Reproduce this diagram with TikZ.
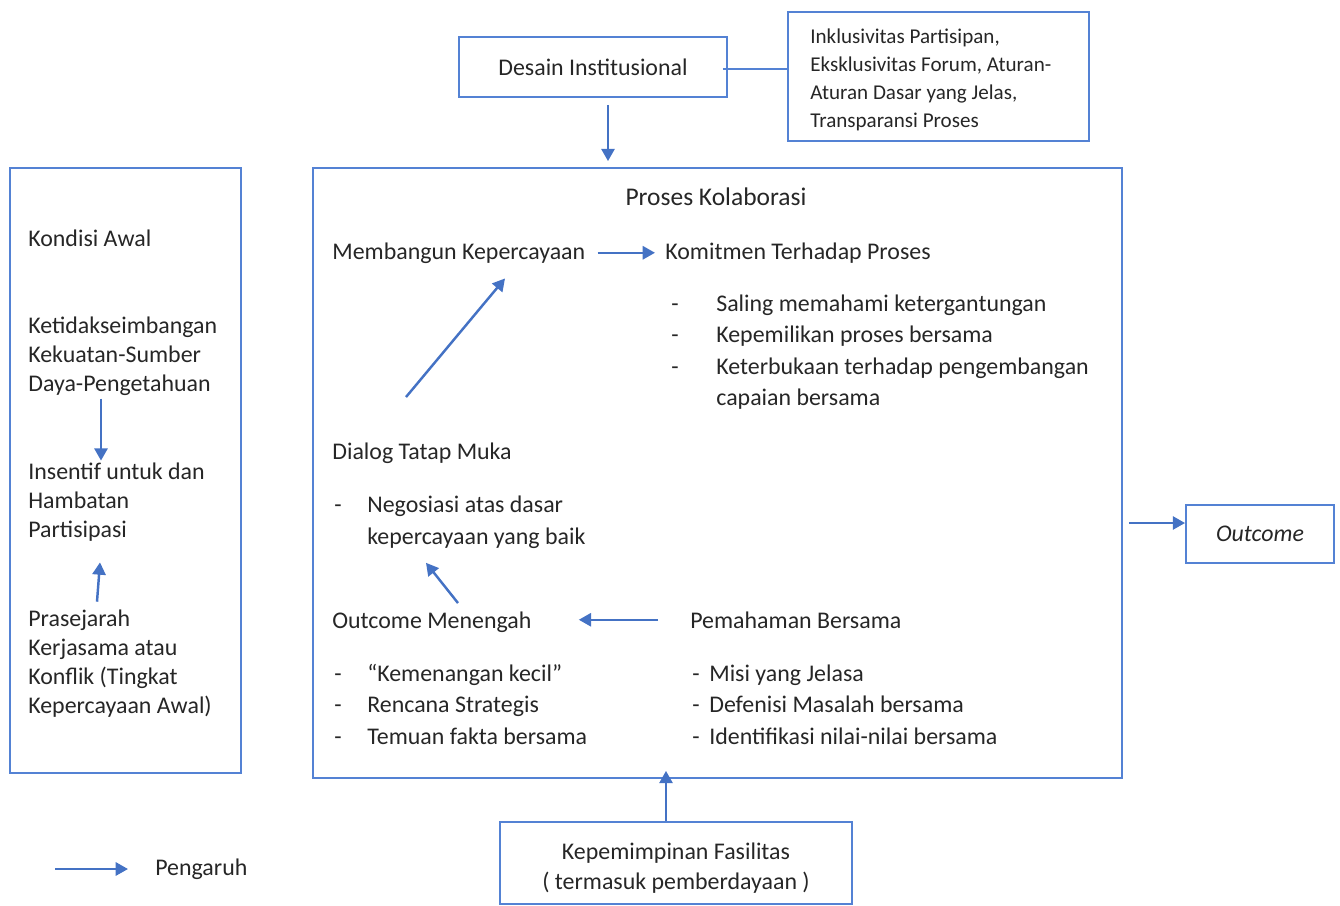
\documentclass[tikz,border=0pt]{standalone}
\usepackage{fontspec}
\setmainfont{Carlito}
\usetikzlibrary{arrows.meta,calc}

\definecolor{garisbiru}{RGB}{84,130,212}
\definecolor{panahbiru}{RGB}{68,114,196}
\definecolor{teks}{RGB}{38,38,38}

\newcommand{\ukuran}{\fontsize{13.6}{16.4}\selectfont}
\newcommand{\ukurandaftar}{\fontsize{13.6}{17.9}\selectfont}
\newcommand{\ukurankecil}{\fontsize{12}{15.9}\selectfont}

\tikzset{
  kotak/.style={draw=garisbiru, line width=1.1pt, inner sep=0pt, text=teks},
  tulisan/.style={anchor=west, inner sep=0pt, align=left, font=\ukuran, text=teks},
  panah/.style={draw=panahbiru, line width=1.4pt, -{Triangle[length=7pt,width=7.5pt]}},
  garis/.style={draw=garisbiru, line width=1.4pt}
}

\begin{document}
\begin{tikzpicture}[x=0.02cm,y=-0.02cm]
\useasboundingbox (0,0) rectangle (1340,906);

% kotak
\node[kotak, minimum width=5.36cm, minimum height=1.2cm, font=\ukuran] (desain) at (593,67) {Desain Institusional};
\node[kotak, minimum width=6.02cm, minimum height=2.58cm] (ciri) at (938.5,76.5) {};
\node[tulisan, font=\ukurankecil] (ciri-isi) at (810,79.5) {Inklusivitas Partisipan,\\Eksklusivitas Forum, Aturan-\\Aturan Dasar yang Jelas,\\Transparansi Proses};
\node[kotak, minimum width=4.62cm, minimum height=12.1cm] (kondisi) at (125.5,470.5) {};
\node[kotak, minimum width=16.18cm, minimum height=12.2cm] (proses) at (717.5,473) {};
\node[kotak, minimum width=2.96cm, minimum height=1.16cm, font=\ukuran\itshape] (outcome) at (1260,534) {Outcome};
\node[kotak, minimum width=7.04cm, minimum height=1.64cm] (pemimpin) at (676,863) {};
\node[tulisan, anchor=center, align=center, font=\fontsize{13.6}{17}\selectfont] (pemimpin-isi) at (676,868) {Kepemimpinan Fasilitas\\( termasuk pemberdayaan )};

% kondisi awal
\node[tulisan, anchor=base west] (judul-kondisi) at (28,246) {Kondisi Awal};
\node[tulisan] (ketimpangan) at (28,356) {Ketidakseimbangan\\Kekuatan-Sumber\\Daya-Pengetahuan};
\node[tulisan] (insentif) at (28,502) {Insentif untuk dan\\Hambatan\\Partisipasi};
\node[tulisan] (prasejarah) at (28,663.5) {Prasejarah\\Kerjasama atau\\Konflik (Tingkat\\Kepercayaan Awal)};
\draw[panah] ($(ketimpangan.south west)+(73,3)$) -- ($(insentif.north west)+(73,-2)$);
\draw[panah] ($(prasejarah.north west)+(69,-8)$) -- ($(insentif.south west)+(72,21)$);

% proses kolaborasi
\node[tulisan, anchor=base, font=\fontsize{14.5}{17}\selectfont] (judul-proses) at (716,205) {Proses Kolaborasi};
\node[tulisan, anchor=base west] (percaya) at (332,259) {Membangun Kepercayaan};
\node[tulisan, anchor=base west] (komitmen) at (665,259) {Komitmen Terhadap Proses};
\node[tulisan, font=\ukurandaftar] (komitmen-isi) at (671,352) {\begin{tabular}{@{}p{0.9cm}@{}l@{}}
  - & Saling memahami ketergantungan\\
  - & Kepemilikan proses bersama\\
  - & Keterbukaan terhadap pengembangan\\
    & capaian bersama
\end{tabular}};
\node[tulisan, anchor=base west] (dialog) at (332,459) {Dialog Tatap Muka};
\node[tulisan, font=\ukurandaftar] (negosiasi) at (334,522) {\begin{tabular}{@{}p{0.66cm}@{}l@{}}
  - & Negosiasi atas dasar\\
    & kepercayaan yang baik
\end{tabular}};
\node[tulisan, anchor=base west] (menengah) at (332,628) {Outcome Menengah};
\node[tulisan, anchor=base west] (pemahaman) at (690,628) {Pemahaman Bersama};
\node[tulisan, font=\ukurandaftar] (menengah-isi) at (334,706.5) {\begin{tabular}{@{}p{0.66cm}@{}l@{}}
  - & “Kemenangan kecil”\\
  - & Rencana Strategis\\
  - & Temuan fakta bersama
\end{tabular}};
\node[tulisan, font=\ukurandaftar] (pemahaman-isi) at (692,706.5) {\begin{tabular}{@{}p{0.34cm}@{}l@{}}
  - & Misi yang Jelasa\\
  - & Defenisi Masalah bersama\\
  - & Identifikasi nilai-nilai bersama
\end{tabular}};

\draw[panah] ($(percaya.east)+(12,0)$) -- ($(komitmen.west |- percaya.east)+(-10,0)$);
\draw[panah] ($(dialog.north west)+(74,-45)$) -- ($(percaya.south west)+(173,15)$);
\draw[panah] ($(menengah.north west)+(126,-8)$) -- ($(negosiasi.south west)+(92,9)$);
\draw[panah] ($(pemahaman.west |- menengah.east)+(-32,-2)$) -- ($(menengah.east)+(47,-2)$);

% hubungan antar kotak
\draw[garis] ($(desain.east)+(-5,2)$) -- ($(desain.east -| ciri.west)+(0,2)$);
\draw[panah] ($(desain.south)+(15,7)$) -- ($(desain.south |- proses.north)+(15,-6)$);
\draw[panah] ($(proses.east |- outcome.west)+(6,-11)$) -- ($(outcome.west)+(0,-11)$);
\draw[panah] ($(pemimpin.north)+(-10,0)$) -- ($(pemimpin.north |- proses.south)+(-10,-8)$);

% legenda
\coordinate (legenda) at (55,869);
\node[tulisan] (pengaruh) at (155,869) {Pengaruh};
\draw[panah] (legenda) -- ($(pengaruh.west)+(-27,0)$);
\end{tikzpicture}
\end{document}
